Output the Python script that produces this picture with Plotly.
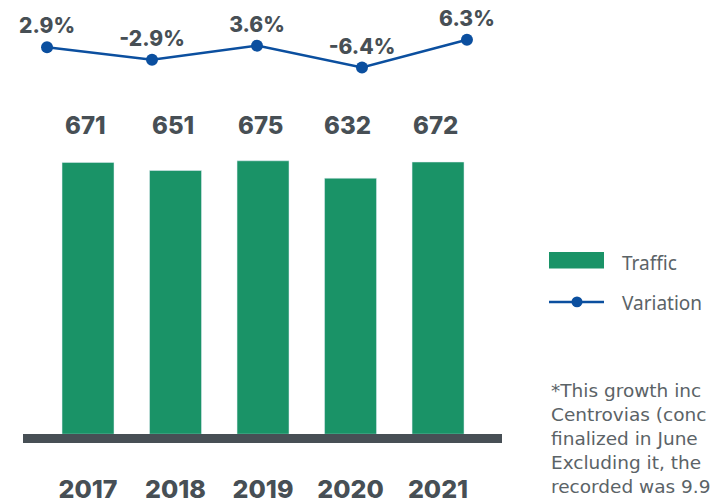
import plotly.graph_objects as go

years = ["2017", "2018", "2019", "2020", "2021"]
traffic = [671, 651, 675, 632, 672]
variation = [2.9, -2.9, 3.6, -6.4, 6.3]
variation_labels = ["2.9%", "-2.9%", "3.6%", "-6.4%", "6.3%"]
footnote_lines = [
    "*This growth inc",
    "Centrovias (conc",
    "finalized in June",
    "Excluding it, the",
    "recorded was 9.9",
]

W, H = 710, 504
DARK = "#474f55"
GREEN = "#1a9367"
BLUE = "#0b4f9f"
GRAY = "#5b6367"
BOLD = "Inter"
LIGHT = "Noto Sans"

idx = list(range(len(years)))

fig = go.Figure()
fig.add_trace(go.Bar(
    x=idx, y=traffic, name="Traffic", marker_color=GREEN, width=0.594,
    xaxis="x", yaxis="y", showlegend=False,
))
fig.add_trace(go.Scatter(
    x=idx, y=variation, name="Variation", mode="lines+markers+text",
    text=variation_labels, textposition="top center",
    textfont=dict(family=BOLD, size=21, color=DARK, weight=800),
    line=dict(color=BLUE, width=2.5), marker=dict(color=BLUE, size=12),
    xaxis="x2", yaxis="y2", cliponaxis=False, showlegend=False,
))

annotations = []
for i, v in zip(idx, traffic):
    annotations.append(dict(
        x=i - 0.03, y=1 - 128 / H, xref="x", yref="paper", text=str(v), showarrow=False,
        font=dict(family=BOLD, size=24, color=DARK, weight=800),
        xanchor="center", yanchor="middle",
    ))

# legend
shapes = [
    dict(type="rect", xref="paper", yref="paper", x0=549 / W, x1=604 / W,
         y0=1 - 274 / H, y1=1 - 257 / H, fillcolor=GREEN, line=dict(width=0)),
    dict(type="line", xref="paper", yref="paper", x0=549 / W, x1=604 / W,
         y0=1 - 308 / H, y1=1 - 308 / H, line=dict(color=BLUE, width=2.5)),
    dict(type="circle", xref="paper", yref="paper", x0=571.5 / W, x1=582.5 / W,
         y0=1 - 313.5 / H, y1=1 - 302.5 / H, fillcolor=BLUE, line=dict(width=0)),
]
annotations.append(dict(x=620 / W, y=1 - 268 / H, xref="paper", yref="paper",
                        text="Traffic", showarrow=False, xanchor="left", yanchor="middle",
                        font=dict(family=LIGHT, size=19, color=GRAY)))
annotations.append(dict(x=620 / W, y=1 - 309 / H, xref="paper", yref="paper",
                        text="Variation", showarrow=False, xanchor="left", yanchor="middle",
                        font=dict(family=LIGHT, size=19, color=GRAY)))
annotations.append(dict(x=549 / W, y=1 - 386 / H, xref="paper", yref="paper",
                        text="<br>".join(footnote_lines), showarrow=False,
                        xanchor="left", yanchor="top", align="left",
                        font=dict(family="DejaVu Sans", size=18.5, color=GRAY)))

fig.update_layout(
    width=W, height=H, margin=dict(l=0, r=0, t=0, b=0),
    paper_bgcolor="white", plot_bgcolor="rgba(0,0,0,0)",
    showlegend=False, annotations=annotations, shapes=shapes,
    xaxis=dict(domain=[23 / W, 502 / W], range=[-0.743, 4.731],
               tickvals=idx, ticktext=years, showgrid=False, zeroline=False,
               showline=True, linewidth=9, linecolor=DARK, ticks="",
               ticklabelstandoff=25,
               tickfont=dict(family=BOLD, size=25, color=DARK, weight=800)),
    yaxis=dict(domain=[1 - 443 / H, 1 - 100 / H], range=[0, 830], visible=False),
    xaxis2=dict(domain=[0, 510 / W], range=[-0.448, 4.41], visible=False,
                anchor="y2"),
    yaxis2=dict(domain=[1 - 100 / H, 1], range=[-20.36, 24.48], visible=False,
                anchor="x2"),
)

fig.write_html("out.html")
